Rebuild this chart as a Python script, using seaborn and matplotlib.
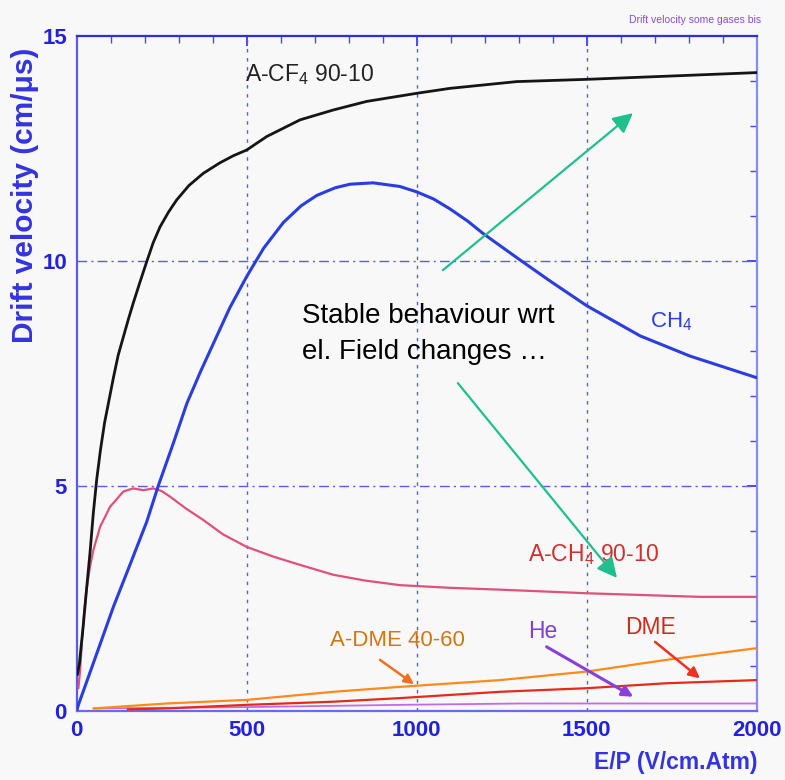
import numpy as np
import pandas as pd
import matplotlib
matplotlib.use("Agg")
import matplotlib.pyplot as plt
import seaborn as sns

# ---- data ----
cf4_x = [2, 8, 19, 29, 39, 49, 59, 70, 82, 95, 108, 122, 137, 152, 166, 185, 206, 225, 245, 270, 294, 330, 372, 420, 460, 500, 559, 657, 755, 853, 1000, 1098, 1294, 1500, 1735, 2000]
cf4_y = [0.8, 1.05, 1.87, 2.7, 3.5, 4.4, 5.15, 5.8, 6.4, 6.9, 7.4, 7.9, 8.3, 8.7, 9.05, 9.5, 9.98, 10.4, 10.75, 11.08, 11.35, 11.67, 11.94, 12.17, 12.33, 12.46, 12.76, 13.13, 13.35, 13.54, 13.72, 13.83, 13.98, 14.03, 14.1, 14.18]

ch4_x = [0, 5, 59, 108, 157, 206, 240, 284, 324, 365, 402, 450, 500, 550, 608, 660, 706, 760, 804, 872, 950, 1000, 1050, 1098, 1150, 1196, 1294, 1392, 1500, 1657, 1804, 2000]
ch4_y = [0.0, 0.13, 1.27, 2.31, 3.25, 4.2, 5.0, 5.94, 6.83, 7.55, 8.16, 8.95, 9.65, 10.28, 10.85, 11.22, 11.45, 11.62, 11.7, 11.73, 11.65, 11.53, 11.37, 11.15, 10.88, 10.6, 10.07, 9.55, 9.0, 8.33, 7.88, 7.4]

ach4_x = [5, 10, 15, 22, 29, 39, 49, 69, 98, 137, 166, 196, 225, 250, 274, 320, 372, 430, 500, 580, 657, 755, 850, 951, 1100, 1245, 1500, 1833, 2000]
ach4_y = [0.5, 0.9, 1.5, 2.2, 2.7, 3.2, 3.57, 4.09, 4.53, 4.87, 4.94, 4.9, 4.94, 4.88, 4.76, 4.5, 4.24, 3.92, 3.64, 3.42, 3.24, 3.02, 2.89, 2.79, 2.73, 2.69, 2.61, 2.53, 2.53]

adme_x = [49, 264, 500, 755, 951, 1245, 1500, 1735, 2000]
adme_y = [0.05, 0.16, 0.24, 0.42, 0.53, 0.68, 0.87, 1.13, 1.39]

dme_x = [150, 264, 500, 755, 951, 1245, 1500, 1735, 2000]
dme_y = [0.03, 0.05, 0.13, 0.2, 0.28, 0.42, 0.5, 0.61, 0.68]

he_x = [50, 500, 951, 1304, 2000]
he_y = [0.05, 0.08, 0.13, 0.16, 0.16]

gas_names = ["A-CF4 90-10", "CH4", "A-CH4 90-10", "A-DME 40-60", "DME", "He"]
x_ticks = [0, 500, 1000, 1500, 2000]
y_ticks = [0, 5, 10, 15]

# ---- styling ----
sns.set_theme(style="white")
plt.rcParams["font.family"] = ["Liberation Sans", "DejaVu Sans"]
plt.rcParams["mathtext.default"] = "regular"

colors = {
    "A-CF4 90-10": "#151515",
    "CH4": "#2a3de0",
    "A-CH4 90-10": "#e0507a",
    "A-DME 40-60": "#ff8a1a",
    "DME": "#e52a1a",
    "He": "#c46ae6",
}
widths = {
    "A-CF4 90-10": 2.0,
    "CH4": 2.2,
    "A-CH4 90-10": 1.6,
    "A-DME 40-60": 1.6,
    "DME": 1.6,
    "He": 1.3,
}

series = [(cf4_x, cf4_y), (ch4_x, ch4_y), (ach4_x, ach4_y), (adme_x, adme_y), (dme_x, dme_y), (he_x, he_y)]
frames = []
for name, (xs, ys) in zip(gas_names, series):
    frames.append(pd.DataFrame({"E/P": xs, "v": ys, "gas": name}))
df = pd.concat(frames, ignore_index=True)

bg = "#f8f8f8"
fig = plt.figure(figsize=(7.85, 7.80), dpi=100, facecolor=bg)
ax = fig.add_axes([76.7 / 785, 1 - 710.7 / 780, 680 / 785, 675 / 780])
ax.set_facecolor(bg)

# grid lines
grid_c = "#5a5af0"
for gx in [500, 1000, 1500]:
    ax.axvline(gx, color=grid_c, lw=1.0, ls=(0, (2.5, 4)), zorder=1)
for gy in [5, 10]:
    ax.axhline(gy, color=grid_c, lw=1.0, ls=(0, (7, 3, 1.5, 3)), zorder=1)

for name in gas_names[::-1]:
    sub = df[df["gas"] == name]
    sns.lineplot(data=sub, x="E/P", y="v", color=colors[name], lw=widths[name],
                 sort=False, estimator=None, legend=False, ax=ax, zorder=3)

ax.set_xlim(0, 2000)
ax.set_ylim(0, 15)
ax.set_xticks(x_ticks)
ax.set_yticks(y_ticks)
ax.set_xticks(np.arange(0, 2001, 100), minor=True)
ax.set_yticks(np.arange(0, 15.1, 1), minor=True)

tick_c = "#2222dd"
ax.tick_params(which="both", direction="in", top=True, right=True, colors="#4848ee")
ax.tick_params(which="major", length=7, width=1.4, labelsize=16, labelcolor=tick_c, pad=7)
ax.tick_params(which="minor", length=5, width=1.0)
for lab in ax.get_xticklabels() + ax.get_yticklabels():
    lab.set_fontweight("bold")

ax.spines["left"].set_color("#5a5af0")
ax.spines["top"].set_color("#2e2ee0")
ax.spines["right"].set_color("#8a8aff")
ax.spines["bottom"].set_color("#6a6af0")
for s in ax.spines.values():
    s.set_linewidth(1.6)
    s.set_visible(True)

ax.set_xlabel("")
ax.set_ylabel("")
fig.text(25 / 785, 1 - 195 / 780, "Drift velocity (cm/\u03bcs)", rotation=90, color="#3333e0",
         fontsize=21.5, fontweight="bold", ha="center", va="center")
fig.text(757 / 785, 1 - 762 / 780, "E/P (V/cm.Atm)", color="#3333e0",
         fontsize=16.5, fontweight="bold", ha="right", va="center")
fig.text(761 / 785, 1 - 20 / 780, "Drift velocity some gases bis", color="#8a4ae0",
         fontsize=7.5, ha="right", va="center")

# curve labels
ax.text(495, 14.13, "A-CF$_4$ 90-10", color="#222222", fontsize=16.5, va="center", ha="left")
ax.text(1686, 8.64, "CH$_4$", color="#2a3de0", fontsize=16, va="center", ha="left")
ax.text(1328, 3.46, "A-CH$_4$ 90-10", color="#d03030", fontsize=16.5, va="center", ha="left")
ax.text(745, 1.55, "A-DME 40-60", color="#d07810", fontsize=16, va="center", ha="left")
ax.text(1328, 1.75, "He", color="#8040d0", fontsize=16.5, va="center", ha="left")
ax.text(1613, 1.84, "DME", color="#d02a1a", fontsize=16.5, va="center", ha="left")

ax.text(663, 9.07, "Stable behaviour wrt\nel. Field changes \u2026", color="black",
        fontsize=20, va="top", ha="left", linespacing=1.5, zorder=5)

# arrows
green = "#1fc08e"
ap = dict(arrowstyle="-|>", color=green, lw=1.6, mutation_scale=30, shrinkA=0, shrinkB=0)
ax.annotate("", xy=(1636, 13.28), xytext=(1077, 9.79), arrowprops=ap, zorder=6)
ax.annotate("", xy=(1589, 2.95), xytext=(1121, 7.28), arrowprops=ap, zorder=6)

ax.annotate("", xy=(992, 0.59), xytext=(892, 1.13),
            arrowprops=dict(arrowstyle="-|>", color="#f07020", lw=1.8, mutation_scale=14, shrinkA=0, shrinkB=0))
ax.annotate("", xy=(1637, 0.31), xytext=(1382, 1.42),
            arrowprops=dict(arrowstyle="-|>", color="#8a40d8", lw=2.2, mutation_scale=16, shrinkA=0, shrinkB=0))
ax.annotate("", xy=(1833, 0.72), xytext=(1701, 1.53),
            arrowprops=dict(arrowstyle="-|>", color="#f03020", lw=1.8, mutation_scale=16, shrinkA=0, shrinkB=0))

fig.savefig("out.png", dpi=100, facecolor=bg)
